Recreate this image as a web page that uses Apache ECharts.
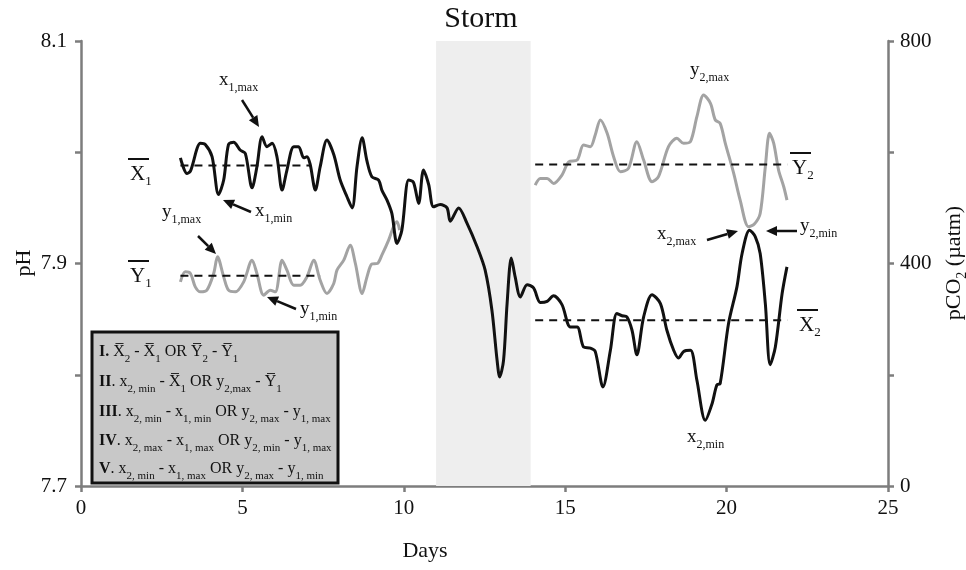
<!DOCTYPE html>
<html><head><meta charset="utf-8">
<script src="https://cdn.jsdelivr.net/npm/echarts@6/dist/echarts.min.js"></script>
<style>html,body{margin:0;padding:0;background:#fff}#c{width:966px;height:570px}</style>
</head><body><div id="c"></div>
<script>
// ---------------- data ----------------
const phDays = [3.08,3.28,3.39,3.70,3.85,4.06,4.26,4.42,4.57,4.73,
  4.93,5.09,5.30,5.45,5.61,5.76,5.92,6.07,6.23,6.38,
  6.59,6.74,6.90,7.00,7.10,7.26,7.41,7.62,7.83,8.03,
  8.24,8.40,8.55,8.71,8.86,9.01,9.22,9.32,9.48,9.63,
  9.79,9.94,10.15,10.30,10.46,10.61,10.77,10.92,11.13,11.34,
  11.44,11.70,11.96,12.27,12.52,12.73,12.89,12.97,13.09,13.20,
  13.33,13.45,13.61,13.82,14.02,14.23,14.44,14.64,14.90,15.16,
  15.37,15.57,15.78,15.93,16.17,16.40,16.60,16.76,16.91,17.07,
  17.22,17.43,17.69,17.95,18.15,18.36,18.51,18.67,18.88,19.08,
  19.34,19.55,19.70,19.80,20.06,20.32,20.48,20.71,20.89,21.04,
  21.20,21.35,21.51,21.72,21.87];
const phValues = [7.995,7.981,7.983,8.008,8.007,7.996,7.962,7.975,8.007,8.009,
  8.002,7.999,7.968,7.987,8.014,8.005,8.008,7.996,7.966,7.984,
  8.005,8.005,7.995,7.996,7.989,7.966,7.987,8.011,7.998,7.975,
  7.960,7.950,7.987,8.013,7.992,7.978,7.975,7.966,7.957,7.945,
  7.918,7.930,7.975,7.973,7.954,7.984,7.971,7.951,7.953,7.950,
  7.938,7.950,7.936,7.915,7.894,7.858,7.813,7.798,7.813,7.864,
  7.905,7.888,7.870,7.881,7.878,7.865,7.866,7.871,7.863,7.843,
  7.843,7.825,7.824,7.821,7.789,7.822,7.855,7.853,7.852,7.840,
  7.818,7.852,7.872,7.864,7.840,7.822,7.815,7.821,7.822,7.795,
  7.759,7.774,7.791,7.792,7.846,7.879,7.909,7.930,7.924,7.909,
  7.864,7.809,7.825,7.873,7.897];

const co2Days1 = [3.08,3.23,3.39,3.54,3.70,3.90,4.11,4.23,4.42,4.57,
  4.78,5.04,5.30,5.45,5.66,5.86,6.02,6.23,6.38,6.59,
  6.79,7.00,7.21,7.41,7.62,7.83,7.93,8.14,8.34,8.50,
  8.71,8.86,9.01,9.18,9.32,9.53,9.68,9.79,9.87];
const co2Values1 = [367,385,382,358,349,352,382,412,376,352,
  349,367,406,382,343,352,349,406,388,361,
  361,376,406,370,346,364,388,406,433,400,
  346,376,399,400,415,442,466,475,460];

const co2Days2 = [14.07,14.23,14.44,14.64,14.90,15.11,15.37,15.57,15.78,15.93,
  16.09,16.30,16.50,16.71,16.96,17.22,17.43,17.69,17.89,18.20,
  18.46,18.67,18.88,19.08,19.29,19.50,19.65,19.80,19.96,20.22,
  20.42,20.68,20.86,21.04,21.20,21.33,21.46,21.61,21.77,21.87];
const co2Values2 = [541,553,553,544,559,583,586,613,610,631,
  658,634,592,565,571,619,586,547,556,610,
  625,616,619,664,703,688,658,652,616,562,
  514,466,471,490,574,634,616,568,538,514];

const meanDaysX1 = [3.08, 7.10];  const meanX1 = 7.988;
const meanDaysY1 = [3.08, 7.42];  const meanY1 = 378;
const meanDaysX2 = [14.07, 21.88]; const meanX2 = 7.849;
const meanDaysY2 = [14.07, 21.88]; const meanY2 = 578;

const stormDays = [11.0, 13.93];
const xTicks = [0, 5, 10, 15, 20, 25];
const pHTicks = [7.7, 7.9, 8.1];
const co2Ticks = [0, 400, 800];

// ---------------- chart ----------------
const zip = (a, b) => a.map((v, i) => [v, b[i]]);
const serif = '"Liberation Serif","Times New Roman",serif';
const ink = '#111';
const axisGray = '#7d7d7d';

function lbl(x, y, main, sub, fs, sfs) {
  return { type: 'text', x: x, y: y, z: 100, style: {
    text: '{m|' + main + '}{s|' + sub + '}', align: 'left', verticalAlign: 'middle',
    rich: {
      m: { fontFamily: serif, fontSize: fs, fill: ink, lineHeight: fs + 8, verticalAlign: 'middle' },
      s: { fontFamily: serif, fontSize: sfs, fill: ink, lineHeight: sfs, verticalAlign: 'bottom' }
    } } };
}
function barLbl(x, y, main, sub) {
  return [lbl(x, y, main, sub, 21, 13),
    { type: 'line', z: 100, shape: { x1: x - 2, y1: y - 15, x2: x + 19, y2: y - 15 }, style: { stroke: ink, lineWidth: 2 } }];
}
function arrow(x1, y1, x2, y2) {
  const dx = x2 - x1, dy = y2 - y1, L = Math.hypot(dx, dy), ux = dx / L, uy = dy / L;
  const hl = 11, hw = 5, bx = x2 - ux * hl, by = y2 - uy * hl;
  return [
    { type: 'line', z: 100, shape: { x1: x1, y1: y1, x2: bx, y2: by }, style: { stroke: ink, lineWidth: 2.5 } },
    { type: 'polygon', z: 100, shape: { points: [[x2, y2], [bx - uy * hw, by + ux * hw], [bx + uy * hw, by - ux * hw]] }, style: { fill: ink } }
  ];
}
const boxRich = {
  b: { fontFamily: serif, fontSize: 16, fontWeight: 'bold', fill: ink, lineHeight: 25, verticalAlign: 'middle' },
  n: { fontFamily: serif, fontSize: 16, fill: ink, lineHeight: 25, verticalAlign: 'middle' },
  s: { fontFamily: serif, fontSize: 11, fill: ink, lineHeight: 11, verticalAlign: 'bottom' }
};
const OB = '\u0305';
const boxLines = [
  '{b|I.}{n| X' + OB + '}{s|2}{n| - X' + OB + '}{s|1}{n| OR Y' + OB + '}{s|2}{n| - Y' + OB + '}{s|1}',
  '{b|II}{n|. x}{s|2, min}{n| - X' + OB + '}{s|1}{n| OR y}{s|2,max}{n| - Y' + OB + '}{s|1}',
  '{b|III}{n|. x}{s|2, min}{n| - x}{s|1, min}{n| OR y}{s|2, max}{n| - y}{s|1, max}',
  '{b|IV}{n|. x}{s|2, max}{n| - x}{s|1, max}{n| OR y}{s|2, min}{n| - y}{s|1, max}',
  '{b|V}{n|. x}{s|2, min}{n| - x}{s|1, max}{n| OR y}{s|2, max}{n| - y}{s|1, min}'
];
const boxY = [352, 382, 412, 441, 469];

const graphics = [
  { type: 'text', x: 481, y: 19, style: { text: 'Storm', font: '30px ' + serif, fill: ink, align: 'center', verticalAlign: 'middle' } },
  { type: 'text', x: 425, y: 551, style: { text: 'Days', font: '22px ' + serif, fill: ink, align: 'center', verticalAlign: 'middle' } },
  { type: 'text', x: 24, y: 263, rotation: Math.PI / 2, style: { text: 'pH', font: '22px ' + serif, fill: ink, align: 'center', verticalAlign: 'middle' } },
  { type: 'text', x: 954, y: 263, rotation: Math.PI / 2, style: {
      text: '{m|pCO}{s|2}{m| (µatm)}', align: 'center', verticalAlign: 'middle',
      rich: { m: { fontFamily: serif, fontSize: 22, fill: ink, lineHeight: 30, verticalAlign: 'middle' },
              s: { fontFamily: serif, fontSize: 14, fill: ink, lineHeight: 14, verticalAlign: 'bottom' } } } },
  { type: 'rect', z: 90, shape: { x: 92, y: 332, width: 246, height: 151 }, style: { fill: '#c8c8c8', stroke: ink, lineWidth: 3 } }
];
boxLines.forEach((t, i) => graphics.push({ type: 'text', z: 100, x: 99, y: boxY[i],
  style: { text: t, align: 'left', verticalAlign: 'middle', rich: boxRich } }));
graphics.push(...barLbl(130, 174, 'X', '1'), ...barLbl(130, 276, 'Y', '1'),
  ...barLbl(792, 168, 'Y', '2'), ...barLbl(799, 325, 'X', '2'));
graphics.push(lbl(219, 80, 'x', '1,max', 19, 12), lbl(255, 211, 'x', '1,min', 19, 12),
  lbl(162, 212, 'y', '1,max', 19, 12), lbl(300, 309, 'y', '1,min', 19, 12),
  lbl(690, 70, 'y', '2,max', 19, 12), lbl(657, 234, 'x', '2,max', 19, 12),
  lbl(800, 226, 'y', '2,min', 19, 12), lbl(687, 437, 'x', '2,min', 19, 12));
graphics.push(...arrow(242, 100, 259, 127), ...arrow(251, 212, 223, 200),
  ...arrow(198, 236, 216, 254), ...arrow(296, 309, 267, 297),
  ...arrow(707, 240, 738, 231), ...arrow(797, 231, 766, 231));

const axisCommon = {
  axisLine: { show: true, lineStyle: { color: axisGray, width: 2.5 } },
  axisTick: { show: true, length: 6, lineStyle: { color: axisGray, width: 2.5 } },
  splitLine: { show: false }
};
const has = (arr, v) => arr.some(t => Math.abs(t - v) < 1e-6);
const dashed = { color: ink, width: 2, type: [8, 6] };

const option = {
  animation: false,
  backgroundColor: '#fff',
  grid: { left: 81, right: 78, top: 41, bottom: 84, containLabel: false, outerBoundsMode: 'none' },
  xAxis: Object.assign({ type: 'value', min: 0, max: 25, interval: 5,
    axisLabel: { fontFamily: serif, fontSize: 21, color: ink, margin: 12,
      formatter: v => has(xTicks, v) ? String(v) : '' } }, axisCommon),
  yAxis: [
    Object.assign({ type: 'value', position: 'left', min: 7.7, max: 8.1, interval: 0.1,
      axisLabel: { fontFamily: serif, fontSize: 21, color: ink, margin: 14,
        formatter: v => has(pHTicks, v) ? v.toFixed(1) : '' } }, axisCommon),
    Object.assign({ type: 'value', position: 'right', min: 0, max: 800, interval: 200,
      axisLabel: { fontFamily: serif, fontSize: 21, color: ink, margin: 12,
        formatter: v => has(co2Ticks, v) ? String(v) : '' } }, axisCommon)
  ],
  series: [
    { type: 'line', data: [], z: 1, silent: true,
      markArea: { silent: true, itemStyle: { color: '#eeeeee' },
        data: [[{ xAxis: stormDays[0] }, { xAxis: stormDays[1] }]] } },
    { name: 'pCO2 a', type: 'line', yAxisIndex: 1, z: 3, data: zip(co2Days1, co2Values1), smooth: 0.3,
      showSymbol: false, lineStyle: { color: '#a3a3a3', width: 3 } },
    { name: 'pCO2 b', type: 'line', yAxisIndex: 1, z: 3, data: zip(co2Days2, co2Values2), smooth: 0.3,
      showSymbol: false, lineStyle: { color: '#a3a3a3', width: 3 } },
    { name: 'pH', type: 'line', yAxisIndex: 0, z: 4, data: zip(phDays, phValues), smooth: 0.3,
      showSymbol: false, lineStyle: { color: ink, width: 3 } },
    { type: 'line', yAxisIndex: 0, z: 5, data: meanDaysX1.map(d => [d, meanX1]), showSymbol: false, lineStyle: dashed },
    { type: 'line', yAxisIndex: 1, z: 5, data: meanDaysY1.map(d => [d, meanY1]), showSymbol: false, lineStyle: dashed },
    { type: 'line', yAxisIndex: 0, z: 5, data: meanDaysX2.map(d => [d, meanX2]), showSymbol: false, lineStyle: dashed },
    { type: 'line', yAxisIndex: 1, z: 5, data: meanDaysY2.map(d => [d, meanY2]), showSymbol: false, lineStyle: dashed }
  ],
  graphic: graphics
};
const chart = echarts.init(document.getElementById('c'));
chart.setOption(option);
</script>
</body></html>
